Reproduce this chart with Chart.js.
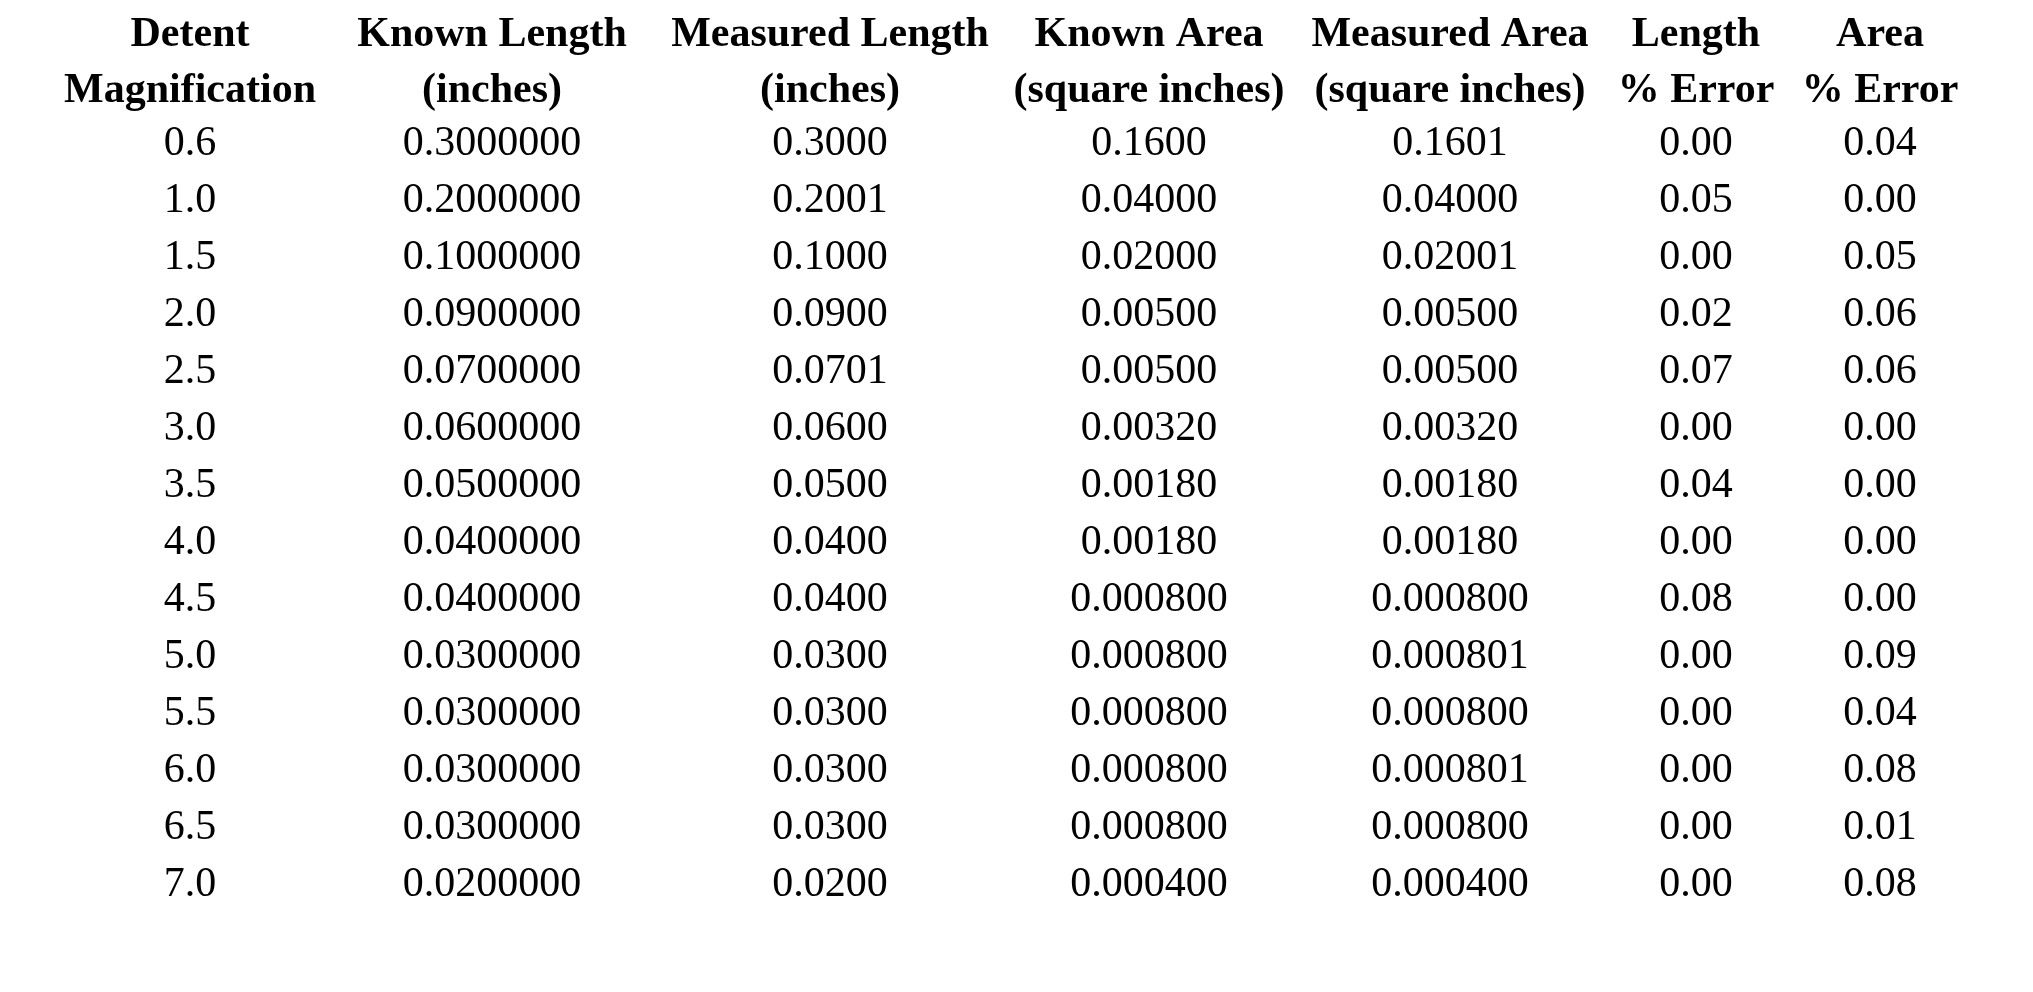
<!DOCTYPE html>
<html>
<head>
<meta charset="utf-8">
<script src="https://cdn.jsdelivr.net/npm/chart.js@4"></script>
<style>
  html, body { margin: 0; padding: 0; background: #fff; }
  #wrap { width: 2033px; height: 992px; }
</style>
</head>
<body>
<div id="wrap"><canvas id="tabel"></canvas></div>
<script>
// data tabel
const headers = [
  ['Detent', 'Magnification'],
  ['Known Length', '(inches)'],
  ['Measured Length', '(inches)'],
  ['Known Area', '(square inches)'],
  ['Measured Area', '(square inches)'],
  ['Length', '% Error'],
  ['Area', '% Error']
];
const magnification = ['0.6','1.0','1.5','2.0','2.5','3.0','3.5','4.0','4.5','5.0','5.5','6.0','6.5','7.0'];
const knownLength = ['0.3000000','0.2000000','0.1000000','0.0900000','0.0700000','0.0600000','0.0500000','0.0400000','0.0400000','0.0300000','0.0300000','0.0300000','0.0300000','0.0200000'];
const measuredLength = ['0.3000','0.2001','0.1000','0.0900','0.0701','0.0600','0.0500','0.0400','0.0400','0.0300','0.0300','0.0300','0.0300','0.0200'];
const knownArea = ['0.1600','0.04000','0.02000','0.00500','0.00500','0.00320','0.00180','0.00180','0.000800','0.000800','0.000800','0.000800','0.000800','0.000400'];
const measuredArea = ['0.1601','0.04000','0.02001','0.00500','0.00500','0.00320','0.00180','0.00180','0.000800','0.000801','0.000800','0.000801','0.000800','0.000400'];
const lengthError = ['0.00','0.05','0.00','0.02','0.07','0.00','0.04','0.00','0.08','0.00','0.00','0.00','0.00','0.00'];
const areaError = ['0.04','0.00','0.05','0.06','0.06','0.00','0.00','0.00','0.00','0.09','0.04','0.08','0.01','0.08'];

const columns = [magnification, knownLength, measuredLength, knownArea, measuredArea, lengthError, areaError];

// tata letak (piksel dalam skala 0..2033 x 0..992)
const colCenters = [190, 492, 830, 1149, 1450, 1696, 1880];
const headerRows = [35, 91];
const firstRow = 144, rowStep = 57.0;

const tablePlugin = {
  id: 'tablePlugin',
  afterDraw(chart) {
    const { ctx, scales: { x, y } } = chart;
    ctx.save();
    ctx.fillStyle = '#000';
    ctx.textAlign = 'center';
    ctx.textBaseline = 'middle';
    ctx.font = 'bold 42px "Liberation Serif", "Times New Roman", serif';
    headers.forEach((h, c) => {
      h.forEach((line, l) => {
        ctx.fillText(line, x.getPixelForValue(colCenters[c]), y.getPixelForValue(headerRows[l]));
      });
    });
    ctx.font = '42px "Liberation Serif", "Times New Roman", serif';
    columns.forEach((col, c) => {
      col.forEach((val, r) => {
        ctx.fillText(val, x.getPixelForValue(colCenters[c]), y.getPixelForValue(firstRow + r * rowStep));
      });
    });
    ctx.restore();
  }
};

new Chart(document.getElementById('tabel'), {
  type: 'scatter',
  data: { datasets: [{ data: [], pointRadius: 0 }] },
  options: {
    responsive: true,
    maintainAspectRatio: false,
    animation: false,
    layout: { padding: 0 },
    plugins: { legend: { display: false }, tooltip: { enabled: false } },
    scales: {
      x: { type: 'linear', min: 0, max: 2033, display: false },
      y: { type: 'linear', min: 0, max: 992, reverse: true, display: false }
    }
  },
  plugins: [tablePlugin]
});
</script>
</body>
</html>
